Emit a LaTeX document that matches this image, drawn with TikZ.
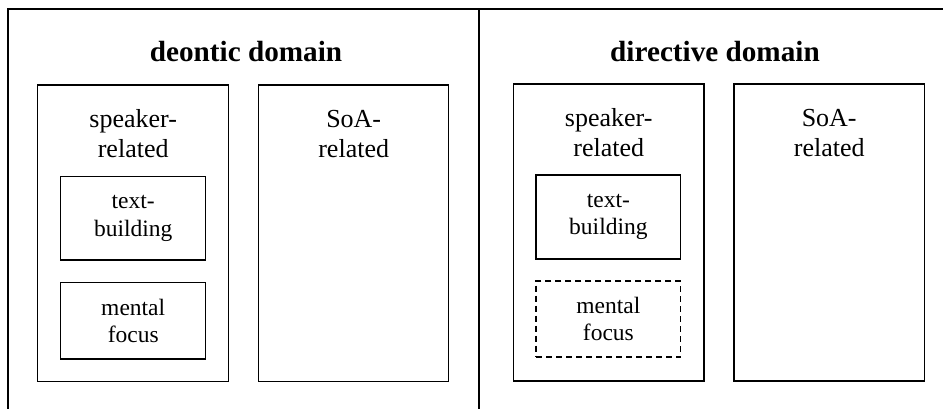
\documentclass[tikz,border=0pt]{standalone}
\usepackage{fontspec}
\setmainfont{Liberation Serif}
\begin{document}
\begin{tikzpicture}[x=1pt,y=-1pt,
  frame/.style={line width=2pt},
  box/.style={draw,line width=1.4pt,rectangle,inner sep=0pt},
  dbox/.style={box,dash pattern=on 6pt off 4pt},
  title/.style={font=\bfseries\fontsize{29.2}{34}\selectfont,inner sep=0pt,anchor=base},
  outlbl/.style={font=\fontsize{26}{30}\selectfont,align=center,inner sep=0pt},
  inlbl/.style={font=\fontsize{23.5}{27.5}\selectfont,align=center,inner sep=0pt}]
\useasboundingbox (0,0) rectangle (943,409);
% frame
\coordinate (tl) at (8,9);
\coordinate (tr) at (943,9);
\coordinate (bl) at (8,409);
\coordinate (mt) at (479,9);
\coordinate (mb) at (479,409);
\draw[frame] (bl) -- (tl) -- (tr);
\draw[frame] (mt) -- (mb);
% left domain
\node[title] (t1) at (246,62) {deontic domain};
\node[box,minimum width=191pt,minimum height=296.7pt] (sp1) at (133.2,233.4) {};
\node[box,minimum width=190pt,minimum height=296.7pt] (soa1) at (353.7,233.4) {};
\node[outlbl] (sp1l) at (133.2,134) {speaker-\\related};
\node[outlbl] (soa1l) at (353.7,134) {SoA-\\related};
\node[box,minimum width=145pt,minimum height=83.3pt,inlbl] (tb1) at (133.2,218.3) {text-\\building};
\node[box,minimum width=145pt,minimum height=76.3pt,inlbl] (mf1) at (133.2,320.9) {mental\\focus};
% right domain
\node[title] (t2) at (715,62) {directive domain};
\node[box,minimum width=190.7pt,minimum height=297pt] (sp2) at (608.7,232.5) {};
\node[box,minimum width=190.3pt,minimum height=297pt] (soa2) at (829.2,232.5) {};
\node[outlbl] (sp2l) at (608.7,133) {speaker-\\related};
\node[outlbl] (soa2l) at (829.2,133) {SoA-\\related};
\node[box,minimum width=144.7pt,minimum height=84pt,inlbl] (tb2) at (608.4,217) {text-\\building};
\node[dbox,minimum width=144.7pt,minimum height=76pt,inlbl] (mf2) at (608.4,319) {mental\\focus};
\end{tikzpicture}
\end{document}
